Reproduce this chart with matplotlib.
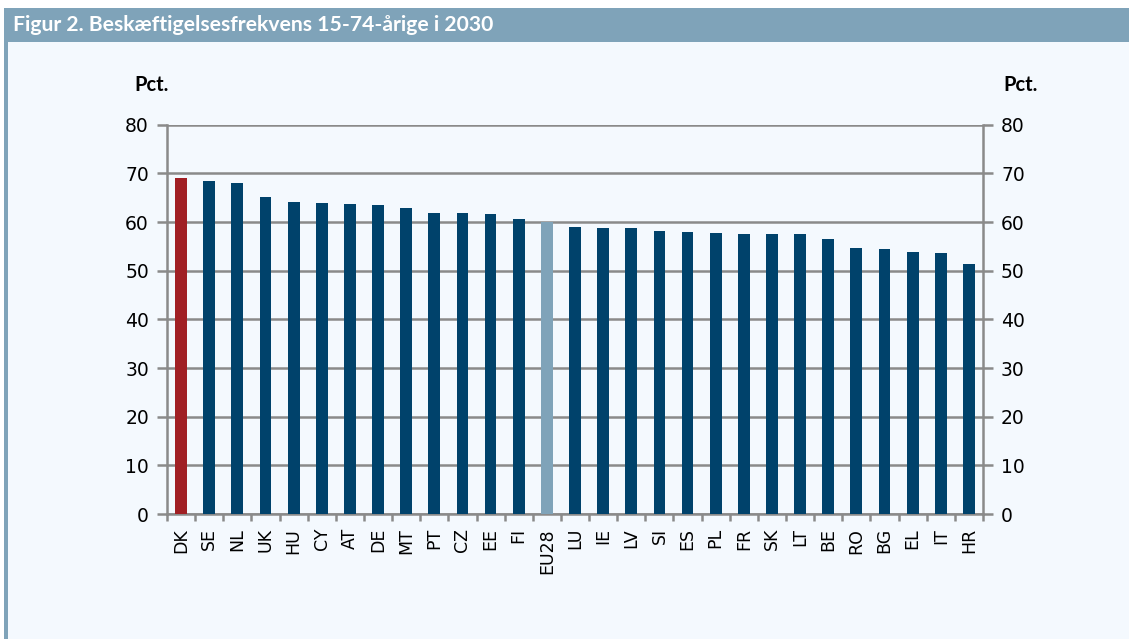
import matplotlib.pyplot as plt
from matplotlib.patches import Rectangle
import numpy as np

countries = ["DK", "SE", "NL", "UK", "HU", "CY", "AT", "DE", "MT", "PT", "CZ", "EE", "FI", "EU28",
             "LU", "IE", "LV", "SI", "ES", "PL", "FR", "SK", "LT", "BE", "RO", "BG", "EL", "IT", "HR"]
rates = [69.1, 68.4, 68.1, 65.2, 64.2, 64.0, 63.8, 63.6, 62.8, 61.9, 61.8, 61.7, 60.6, 60.0,
         59.0, 58.8, 58.8, 58.2, 57.9, 57.7, 57.5, 57.5, 57.5, 56.5, 54.6, 54.5, 53.8, 53.6, 51.4]
yticks = [0, 10, 20, 30, 40, 50, 60, 70, 80]

plt.rcParams['font.family'] = ['DejaVu Sans']

BG = "#f4f9fe"
HEAD = "#7fa3b9"
DARK = "#00426b"
RED = "#a01f24"
GRID = "#8a8a8a"

colors = [RED if c == "DK" else HEAD if c == "EU28" else DARK for c in countries]

fig = plt.figure(figsize=(11.29, 6.39), dpi=100)
fig.patch.set_facecolor("white")

# background panel, header band and left strip
fig.add_artist(Rectangle((4 / 1129, 0), 1, 1 - 42 / 639, transform=fig.transFigure,
                         facecolor=BG, edgecolor="none", zorder=0))
fig.add_artist(Rectangle((4 / 1129, 1 - 42 / 639), 1, 34 / 639, transform=fig.transFigure,
                         facecolor=HEAD, edgecolor="none", zorder=0))
fig.add_artist(Rectangle((4 / 1129, 0), 4 / 1129, 1 - 42 / 639, transform=fig.transFigure,
                         facecolor=HEAD, edgecolor="none", zorder=0))
fig.text(13 / 1129, 1 - 25 / 639, "Figur 2. Beskæftigelsesfrekvens 15-74-årige i 2030",
         color="white", fontsize=15.2, fontweight="bold", family="Lato", va="center", ha="left")

ax = fig.add_axes([167 / 1129, 1 - 514 / 639, (983 - 167) / 1129, (514 - 124.7) / 639])
ax.set_facecolor("none")
x = np.arange(len(countries))
ax.bar(x, rates, width=0.42, color=colors, zorder=3)

ax.set_xlim(-0.5, len(countries) - 0.5)
ax.set_ylim(0, 80)
ax.set_yticks(yticks)
ax.yaxis.grid(True, color=GRID, linewidth=1.8, zorder=1)
for s in ["left", "right", "bottom"]:
    ax.spines[s].set_color(GRID)
    ax.spines[s].set_linewidth(1.8)
ax.spines["top"].set_visible(False)
ax.tick_params(axis="y", which="both", left=True, right=True, labelleft=True, labelright=True,
               length=7, width=1.8, color=GRID, labelsize=13.5, pad=6)
ax.set_xticks(x)
ax.set_xticklabels(countries, rotation=90, fontsize=12.5)
ax.tick_params(axis="x", which="major", length=0, pad=10)
ax.set_xticks(np.arange(-0.5, len(countries)), minor=True)
ax.tick_params(axis="x", which="minor", length=5, width=1.8, color=GRID)

fig.text(152 / 1129, 1 - 85 / 639, "Pct.", fontsize=14.5, fontweight="bold", family="Lato",
         ha="center", va="center")
fig.text(1021 / 1129, 1 - 85 / 639, "Pct.", fontsize=14.5, fontweight="bold", family="Lato",
         ha="center", va="center")

fig.savefig("out.png", dpi=100, facecolor=fig.get_facecolor())
